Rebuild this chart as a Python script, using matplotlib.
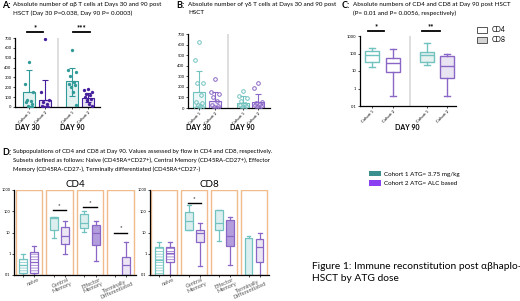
import numpy as np
import matplotlib.pyplot as plt
from matplotlib.patches import Patch

plt.rcParams['font.family'] = ['Lato', 'DejaVu Sans']
plt.rcParams['hatch.linewidth'] = 0.5

W, H = 520, 301
teal = '#2f9a98'
purple = '#46209c'
teal_l = '#72c3c0'
purple_l = '#8a66c6'
orange = '#f2bb8c'

cohorts = ['Cohort 1', 'Cohort 2']

# A: alpha-beta T cells, day 30 c1, c2, day 90 c1, c2
a_bar = [149, 76, 260, 94]
a_err_hi = [374, 270, 398, 139]
a_err_lo = [149, 76, 111, 52]
a_pts = [
    [455, 230, 155, 75, 60, 50, 35, 15, 5, 0],
    [690, 155, 70, 50, 30, 15, 5, 0, 0],
    [580, 380, 355, 310, 250, 235, 225, 205, 155, 25],
    [185, 175, 155, 130, 120, 105, 85, 70, 35, 15],
]
# B: gamma-delta T cells
b_bar = [151, 63, 47, 57]
b_err_hi = [347, 150, 110, 132]
b_err_lo = [151, 63, 47, 57]
b_pts = [
    [620, 450, 240, 235, 120, 60, 45, 30, 15, 5, 0],
    [270, 150, 135, 100, 65, 30, 15, 5, 0, 0],
    [165, 115, 95, 65, 40, 30, 15, 5, 0],
    [240, 190, 60, 50, 40, 25, 15, 5, 0],
]
# C: CD4 c1, CD4 c2, CD8 c1, CD8 c2  (whislo, q1, med, q3, whishi)
c_box = [
    [17, 33, 80, 135, 195],
    [0.38, 9, 27, 52, 170],
    [21, 33, 80, 123, 425],
    [0.38, 4, 19.5, 73, 100],
]
# D: subsets naive, central mem, effector mem, terminally diff
subsets = ['naive', 'Central\nMemory', 'Effector\nMemory', 'Terminally\nDifferentiated']
d_cd4 = [
    [[0.1, 0.12, 0.3, 0.56, 1.0], [0.1, 0.12, 0.4, 1.15, 2.3]],
    [[5.8, 13.5, 50, 52, 52], [1.0, 3.0, 6.5, 19, 36]],
    [[11, 16, 28, 78, 108], [0.45, 2.6, 10, 23, 36]],
    [None, [0.1, 0.1, 0.31, 0.72, 3.5]],
]
d_cd8 = [
    [[0.1, 0.1, 0.5, 2.0, 3.5], [0.1, 0.39, 1.1, 2.0, 3.5]],
    [[13, 13, 35, 93, 195], [0.27, 3.5, 10, 12.5, 28]],
    [[4.2, 12.5, 28, 112, 112], [0.3, 2.2, 7.2, 40, 54]],
    [[0.1, 0.1, 0.1, 5.6, 6.5], [0.1, 0.39, 2.0, 5.0, 10]],
]
d_cd4_sig = [(1, 112, '*'), (2, 160, '*'), (3, 10, '*')]
d_cd8_sig = [(1, 250, '*')]

fig = plt.figure(figsize=(W / 100, H / 100), dpi=100)


def px_axes(x0, y0, x1, y1):
    return fig.add_axes([x0 / W, 1 - y1 / H, (x1 - x0) / W, (y1 - y0) / H])


def style(ax, lab=3):
    for s in ['top', 'right']:
        ax.spines[s].set_visible(False)
    for s in ['left', 'bottom']:
        ax.spines[s].set_linewidth(0.9)
    ax.tick_params(length=1.5, width=0.5, labelsize=lab, pad=1)


def offsets(n, w):
    pat = [0, -1, 1, -0.5, 0.5, -0.75, 0.75, -0.25, 0.25, 0.9, -0.9]
    return [pat[i % len(pat)] * w for i in range(n)]


def bar_panel(ax, pos, bars, hi, lo, pts, filled):
    cols = [teal, purple] if filled else [teal_l, purple_l]
    for i, p in enumerate(pos):
        c = cols[i % 2]
        ax.errorbar(p, bars[i], yerr=[[bars[i] - lo[i]], [hi[i] - bars[i]]],
                    color=c, lw=0.8, capsize=2, capthick=0.8, zorder=3)
        ax.bar(p, bars[i], width=0.72, facecolor=c, alpha=0.12, zorder=2)
        ax.bar(p, bars[i], width=0.72, facecolor='none', edgecolor=c, lw=0.8, zorder=2)
        ys = pts[i]
        xs = np.array(offsets(len(ys), 0.24)) + p
        if filled:
            ax.plot(xs, ys, 'o', ms=2.4, color=c, mew=0, zorder=4)
        else:
            ax.plot(xs, ys, 'o', ms=2.6, mfc='none', mec=c, mew=0.7, zorder=4)
    ax.set_ylim(0, 700)
    ax.set_yticks(range(0, 701, 100))
    ax.set_xticks(pos)
    ax.set_xticklabels(cohorts * 2, rotation=45, ha='right', rotation_mode='anchor', fontsize=3)
    style(ax)


# ---- A
axA = px_axes(15, 38, 100, 107)
posA = [0, 1, 2.7, 3.7]
bar_panel(axA, posA, a_bar, a_err_hi, a_err_lo, a_pts, True)
axA.set_xlim(-0.875, 4.44)
axA.axvline(1.81, color='#d8d8d8', lw=1.2, zorder=0)
for x0, x1, s in [(-0.12, 0.875, '*'), (2.75, 3.8, '***')]:
    axA.plot([x0, x1], [761, 761], color='k', lw=1.3, clip_on=False)
    axA.text((x0 + x1) / 2, 772, s, ha='center', va='bottom', fontsize=5.5, weight='bold')

# ---- B
axB = px_axes(188, 34, 270, 108)
posB = [0, 1, 2.75, 3.7]
bar_panel(axB, posB, b_bar, b_err_hi, b_err_lo, b_pts, False)
axB.set_xlim(-0.69, 4.44)
axB.axvline(1.81, color='#d8d8d8', lw=1.2, zorder=0)

# ---- C
axC = px_axes(360, 36, 456, 106)
posC = [0, 1.05, 2.75, 3.75]
colsC = [teal_l, purple_l, teal_l, purple_l]
fillC = ['white', 'white', '#e6f1f0', '#e9e4f2']
for i, p in enumerate(posC):
    lo_, q1, md, q3, hi_ = c_box[i]
    st = dict(whislo=lo_, q1=q1, med=md, q3=q3, whishi=hi_, fliers=[])
    axC.bxp([st], positions=[p], widths=0.67, patch_artist=True, showcaps=True,
            boxprops=dict(facecolor=fillC[i], edgecolor=colsC[i], lw=1.0),
            whiskerprops=dict(color=colsC[i], lw=1.0),
            capprops=dict(color=colsC[i], lw=1.0),
            medianprops=dict(color=colsC[i], lw=1.0))
axC.set_yscale('log')
axC.set_ylim(0.1, 1000)
axC.set_yticks([0.1, 1, 10, 100, 1000])
axC.set_yticklabels(['0.1', '1', '10', '100', '1000'])
axC.yaxis.set_minor_locator(plt.NullLocator())
axC.set_xlim(-0.6, 4.2)
axC.set_xticks(posC)
axC.set_xticklabels(cohorts * 2, rotation=45, ha='right', rotation_mode='anchor', fontsize=3)
style(axC)
axC.axvline(1.9, color='#d8d8d8', lw=1.2, zorder=0)
for x0, x1, s in [(-0.2, 0.6, '*'), (2.5, 3.4, '**')]:
    axC.plot([x0, x1], [1870, 1870], color='k', lw=1.3, clip_on=False)
    axC.text((x0 + x1) / 2, 2100, s, ha='center', va='bottom', fontsize=5.5, weight='bold')
legC = [Patch(facecolor='white', edgecolor='#555555', lw=0.7),
        Patch(facecolor='#d4d4d4', edgecolor='#555555', lw=0.7)]
fig.legend(legC, ['CD4', 'CD8'], loc='upper left', bbox_to_anchor=(474 / W, 1 - 23 / H),
           frameon=False, fontsize=5, handlelength=1.4, handleheight=0.9,
           labelspacing=0.4, handletextpad=0.6, borderpad=0)

# ---- D
def subset_panel(ax, boxes, sig, title):
    groups = np.arange(len(subsets))
    for g in groups:
        ax.axvspan(g - 0.43, g + 0.43, facecolor='none', edgecolor=orange, lw=1.0, zorder=0)
        for k in range(2):
            b = boxes[g][k]
            if b is None:
                continue
            lo_, q1, md, q3, hi_ = b
            c = [teal_l, purple_l][k]
            if g == 0:
                fc, hatch = 'white', '------'
            elif g == 2 and k == 1:
                fc, hatch = '#b39ddc', None
            else:
                fc, hatch = ['#dcefee', '#ebe5f4'][k], None
            st = dict(whislo=lo_, q1=q1, med=md, q3=q3, whishi=hi_, fliers=[])
            ax.bxp([st], positions=[g + (k - 0.5) * 0.37], widths=0.26, patch_artist=True,
                   boxprops=dict(facecolor=fc, edgecolor=c, lw=0.9, hatch=hatch),
                   whiskerprops=dict(color=c, lw=0.9),
                   capprops=dict(color=c, lw=0.9),
                   medianprops=dict(color=c, lw=0.9))
    for g, y, s in sig:
        ax.plot([g - 0.22, g + 0.22], [y, y], color='k', lw=1.0)
        ax.text(g, y * 1.25, s, ha='center', va='bottom', fontsize=4.5)
    ax.set_yscale('log')
    ax.set_ylim(0.1, 1000)
    ax.set_yticks([0.1, 1, 10, 100, 1000])
    ax.set_yticklabels(['0.1', '1', '10', '100', '1000'])
    ax.yaxis.set_minor_locator(plt.NullLocator())
    ax.set_xlim(-0.48, 3.5)
    ax.set_xticks([g + (k - 0.5) * 0.37 for g in groups for k in range(2)])
    ax.set_xticklabels([])
    style(ax, lab=2.8)
    ax.tick_params(axis='x', length=1.2)
    for g in groups:
        ax.text(g + 0.3, -0.02, subsets[g], transform=ax.get_xaxis_transform(),
                rotation=24, ha='right', va='top', rotation_mode='anchor',
                fontsize=4.1, color='#555555', multialignment='center', linespacing=0.95)
    ax.set_title(title, fontsize=7, pad=2)


axD4 = px_axes(14, 190, 136, 275)
subset_panel(axD4, d_cd4, d_cd4_sig, 'CD4')
axD8 = px_axes(150, 190, 269, 275)
subset_panel(axD8, d_cd8, d_cd8_sig, 'CD8')

legD = [Patch(facecolor='#3b8f8c', edgecolor='none'), Patch(facecolor='#8a3ff0', edgecolor='none')]
fig.legend(legD, ['Cohort 1 ATG= 3.75 mg/kg', 'Cohort 2 ATG= ALC based'], loc='upper left',
           bbox_to_anchor=(366 / W, 1 - 168 / H), frameon=False, fontsize=4.5,
           handlelength=1.9, handleheight=0.9, labelspacing=0.55, handletextpad=0.5, borderpad=0)

# ---- texts
fs = 4.5
fig.text(2 / W, 1 - 1 / H, 'A:', fontsize=6.5, weight='bold', va='top')
fig.text(13 / W, 1 - 2 / H, 'Absolute number of αβ T cells at Days 30 and 90 post\nHSCT (Day 30 P=0.038, Day 90 P= 0.0003)',
         fontsize=fs, va='top', linespacing=1.8)
fig.text(176 / W, 1 - 1 / H, 'B:', fontsize=6.5, weight='bold', va='top')
fig.text(188 / W, 1 - 2 / H, 'Absolute number of γδ T cells at Days 30 and 90 post\nHSCT',
         fontsize=fs, va='top', linespacing=1.8)
fig.text(342 / W, 1 - 1 / H, 'C:', fontsize=6.5, weight='bold', va='top')
fig.text(353 / W, 1 - 2 / H, 'Absolute numbers of CD4 and CD8 at Day 90 post HSCT\n(P= 0.01 and P= 0.0056, respectively)',
         fontsize=fs, va='top', linespacing=1.8)
fig.text(2 / W, 1 - 148 / H, 'D:', fontsize=6.5, weight='bold', va='top')
fig.text(13 / W, 1 - 149 / H,
         'Subpopulations of CD4 and CD8 at Day 90. Values assessed by flow in CD4 and CD8, respectively.\n'
         'Subsets defined as follows: Naive (CD45RA+CD27+), Central Memory (CD45RA-CD27+), Effector\n'
         'Memory (CD45RA-CD27-), Terminally differentiated (CD45RA+CD27-)',
         fontsize=4.3, va='top', linespacing=1.75)
for x, s in [(27, 'DAY 30'), (72, 'DAY 90'), (198, 'DAY 30'), (242, 'DAY 90'), (407, 'DAY 90')]:
    fig.text(x / W, 1 - 128 / H, s, fontsize=5, weight='bold', ha='center', va='center')
fig.text(312 / W, 1 - 262 / H, 'Figure 1: Immune reconstitution post αβhaplo-\nHSCT by ATG dose',
         fontsize=7.4, va='top', linespacing=1.4)

fig.savefig('out.png', dpi=100)
